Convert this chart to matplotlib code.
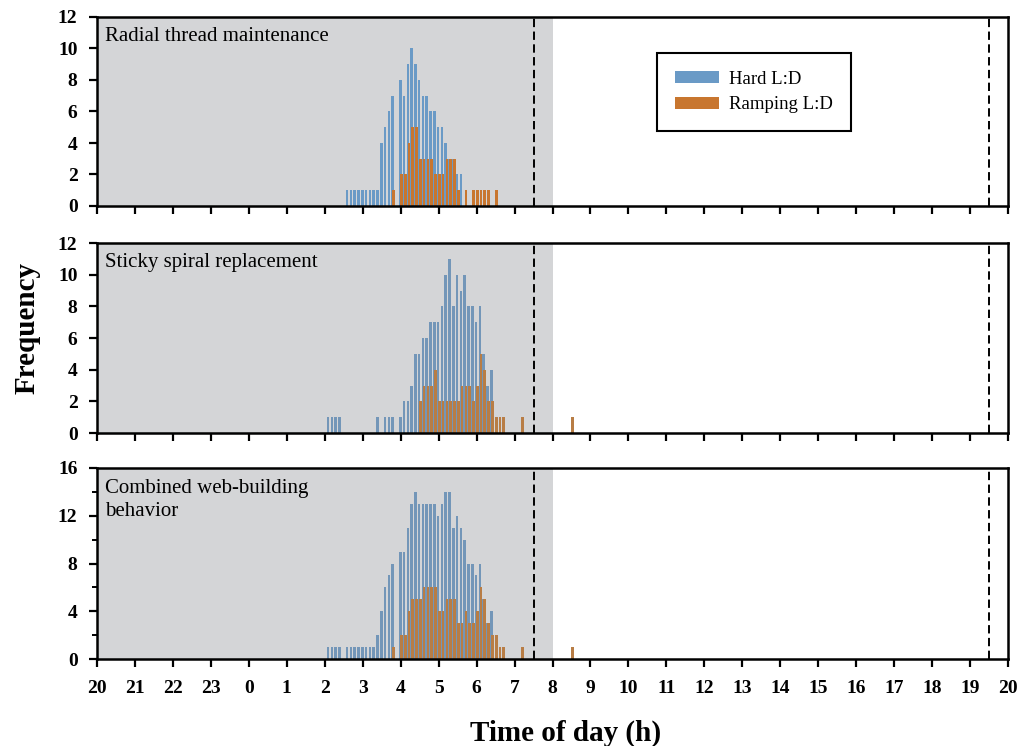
import matplotlib
matplotlib.use("Agg")
import matplotlib.pyplot as plt
from matplotlib.patches import Patch
from matplotlib.ticker import MultipleLocator

plt.rcParams['font.family'] = ['Liberation Serif', 'DejaVu Serif']
plt.rcParams['lines.scale_dashes'] = False

# ---- data (clock time of day in hours, counts) ----
hours_hard_radial = [2.6, 2.7, 2.8, 2.9, 3.0, 3.1, 3.2, 3.3, 3.4, 3.5, 3.6, 3.7, 3.8,
                     4.0, 4.1, 4.2, 4.3, 4.4, 4.5, 4.6, 4.7, 4.8, 4.9, 5.0, 5.1, 5.2,
                     5.3, 5.4, 5.5, 5.6]
count_hard_radial = [1, 1, 1, 1, 1, 1, 1, 1, 1, 4, 5, 6, 7,
                     8, 7, 9, 10, 9, 8, 7, 7, 6, 6, 5, 5, 4,
                     3, 3, 2, 2]
hours_ramp_radial = [3.8, 4.0, 4.1, 4.2, 4.3, 4.4, 4.5, 4.6, 4.7, 4.8, 4.9, 5.0, 5.1,
                     5.2, 5.3, 5.4, 5.5, 5.7, 5.9, 6.0, 6.1, 6.2, 6.3, 6.5]
count_ramp_radial = [1, 2, 2, 4, 5, 5, 3, 3, 3, 3, 2, 2, 2,
                     3, 3, 3, 1, 1, 1, 1, 1, 1, 1, 1]

hours_hard_sticky = [2.1, 2.2, 2.3, 2.4, 3.4, 3.6, 3.7, 3.8, 4.0, 4.1, 4.2, 4.3, 4.4,
                     4.5, 4.6, 4.7, 4.8, 4.9, 5.0, 5.1, 5.2, 5.3, 5.4, 5.5, 5.6, 5.7,
                     5.8, 5.9, 6.0, 6.1, 6.2, 6.3, 6.4]
count_hard_sticky = [1, 1, 1, 1, 1, 1, 1, 1, 1, 2, 2, 3, 5,
                     5, 6, 6, 7, 7, 7, 8, 10, 11, 8, 10, 9, 10,
                     8, 8, 7, 8, 5, 3, 4]
hours_ramp_sticky = [4.5, 4.6, 4.7, 4.8, 4.9, 5.0, 5.1, 5.2, 5.3, 5.4, 5.5, 5.6, 5.7,
                     5.8, 5.9, 6.0, 6.1, 6.2, 6.3, 6.4, 6.5, 6.6, 6.7, 7.2, 8.5]
count_ramp_sticky = [2, 3, 3, 3, 4, 2, 2, 2, 2, 2, 2, 3, 3,
                     3, 2, 3, 5, 4, 2, 2, 1, 1, 1, 1, 1]

hours_hard_comb = [2.1, 2.2, 2.3, 2.4, 2.6, 2.7, 2.8, 2.9, 3.0, 3.1, 3.2, 3.3, 3.4,
                   3.5, 3.6, 3.7, 3.8, 4.0, 4.1, 4.2, 4.3, 4.4, 4.5, 4.6, 4.7, 4.8,
                   4.9, 5.0, 5.1, 5.2, 5.3, 5.4, 5.5, 5.6, 5.7, 5.8, 5.9, 6.0, 6.1,
                   6.2, 6.3, 6.4]
count_hard_comb = [1, 1, 1, 1, 1, 1, 1, 1, 1, 1, 1, 1, 2,
                   4, 6, 7, 8, 9, 9, 11, 13, 14, 13, 13, 13, 13,
                   13, 12, 13, 14, 14, 11, 12, 11, 10, 8, 8, 7, 8,
                   5, 3, 4]
hours_ramp_comb = [3.8, 4.0, 4.1, 4.2, 4.3, 4.4, 4.5, 4.6, 4.7, 4.8, 4.9, 5.0, 5.1,
                   5.2, 5.3, 5.4, 5.5, 5.6, 5.7, 5.8, 5.9, 6.0, 6.1, 6.2, 6.3, 6.4,
                   6.5, 6.6, 6.7, 7.2, 8.5]
count_ramp_comb = [1, 2, 2, 4, 5, 5, 5, 6, 6, 6, 6, 4, 4,
                   5, 5, 5, 3, 3, 4, 3, 3, 4, 6, 5, 3, 2,
                   2, 1, 1, 1, 1]

panel_titles = ["Radial thread maintenance", "Sticky spiral replacement",
                "Combined web-building\nbehavior"]
series_labels = ["Hard L:D", "Ramping L:D"]
tick_hours = [20, 21, 22, 23, 0, 1, 2, 3, 4, 5, 6, 7, 8, 9, 10, 11, 12, 13,
              14, 15, 16, 17, 18, 19, 20]

START = 20.0  # axis starts at 20:00


def to_x(hours):
    return [(h - START) % 24 for h in hours]


panels = [
    (hours_hard_radial, count_hard_radial, hours_ramp_radial, count_ramp_radial, 12, 2, None),
    (hours_hard_sticky, count_hard_sticky, hours_ramp_sticky, count_ramp_sticky, 12, 2, None),
    (hours_hard_comb, count_hard_comb, hours_ramp_comb, count_ramp_comb, 16, 4, 2),
]

blue1, orange1 = "#6A9AC6", "#C8762F"
blue2, orange2 = "#7396B8", "#B87D45"
colors = [(blue1, orange1), (blue2, orange2), (blue2, orange2)]

W, H = 1018, 746
fig = plt.figure(figsize=(W / 100, H / 100), dpi=100)

left, right = 97, 1008
boxes = [(17, 206), (243, 433), (468, 659)]

for i, (ht, hc, rt, rc, ymax, ystep, yminor) in enumerate(panels):
    top, bot = boxes[i]
    ax = fig.add_axes([left / W, 1 - bot / H, (right - left) / W, (bot - top) / H])
    ax.axvspan(0, 12, color="#D4D5D7", zorder=0, lw=0)
    cb, co = colors[i]
    ax.bar([x - 0.012 for x in to_x(ht)], hc, width=0.068, color=cb, zorder=2, lw=0)
    ax.bar([x + 0.018 for x in to_x(rt)], rc, width=0.072, color=co, zorder=3, lw=0)
    for h in (7.5, 19.5):
        ax.axvline((h - START) % 24, color="black", lw=1.4, dashes=(6, 3.2), zorder=4)
    ax.set_xlim(0, 24)
    ax.set_ylim(0, ymax)
    ax.set_xticks(range(25))
    ax.yaxis.set_major_locator(MultipleLocator(ystep))
    if yminor:
        ax.yaxis.set_minor_locator(MultipleLocator(yminor))
    if i == 2:
        ax.set_xticklabels([str(t) for t in tick_hours])
    else:
        ax.set_xticklabels([])
    ax.tick_params(axis="both", which="major", direction="out", length=6,
                   width=1.6, labelsize=14, color="black")
    ax.tick_params(axis="x", pad=9)
    ax.tick_params(axis="y", pad=8)
    ax.tick_params(axis="y", which="minor", direction="out", length=3.5, width=1.4)
    for lab in ax.get_xticklabels() + ax.get_yticklabels():
        lab.set_fontweight("bold")
    for sp in ax.spines.values():
        sp.set_linewidth(1.8)
        sp.set_zorder(5)
    ax.text(0.009, 0.945, panel_titles[i], transform=ax.transAxes, ha="left",
            va="top", fontsize=15, linespacing=1.3)
    if i == 0:
        handles = [Patch(facecolor=blue1, edgecolor="none"),
                   Patch(facecolor=orange1, edgecolor="none")]
        leg = ax.legend(handles, series_labels, loc="upper left",
                        bbox_to_anchor=(0.615, 0.81), borderaxespad=0,
                        fontsize=13.5, frameon=True, fancybox=False,
                        handlelength=2.35, handleheight=0.6, handletextpad=0.55,
                        labelspacing=0.45, borderpad=0.95)
        leg.get_frame().set_edgecolor("black")
        leg.get_frame().set_linewidth(1.5)
        leg.get_frame().set_alpha(1)

fig.text(27 / W, 1 - 328 / H, "Frequency", rotation=90, ha="center", va="center",
         fontsize=21, fontweight="bold")
fig.text(566 / W, 1 - 733 / H, "Time of day (h)", ha="center", va="center",
         fontsize=21, fontweight="bold")

fig.savefig("out.png", dpi=100)
